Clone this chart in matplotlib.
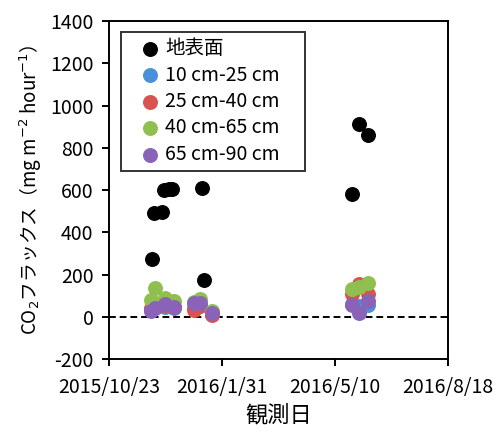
import numpy as np
import pandas as pd
import matplotlib
matplotlib.use("Agg")
import matplotlib.pyplot as plt

plt.rcParams['font.family'] = ['Noto Sans CJK JP', 'DejaVu Sans']
plt.rcParams['axes.unicode_minus'] = False

# 地表面の測定日と値
surf_dates = ['2015-11-30', '2015-12-02', '2015-12-09', '2015-12-11', '2015-12-15',
              '2015-12-18', '2016-01-13', '2016-01-15', '2016-05-25', '2016-05-31', '2016-06-08']
surf_vals = [275, 490, 495, 600, 605, 605, 608, 172, 583, 912, 862]

# 土壌中の測定日
sub_dates = ['2015-11-29', '2015-12-03', '2015-12-12', '2015-12-20', '2016-01-06',
             '2016-01-12', '2016-01-22', '2016-05-25', '2016-05-31', '2016-06-08']
d10_25 = [30, 50, 45, 40, 40, 55, 15, 60, 50, 55]
d25_40 = [40, 60, 55, 45, 30, 50, 10, 110, 155, 110]
d40_65 = [80, 135, 90, 75, 70, 85, 25, 130, 140, 160]
d65_90 = [25, 40, 60, 45, 65, 65, 20, 55, 20, 75]

labels = ['地表面', '10 cm-25 cm', '25 cm-40 cm', '40 cm-65 cm', '65 cm-90 cm']
colors = ['black', '#4a90d9', '#d9534f', '#8fc04f', '#8a62b8']

sd = pd.to_datetime(surf_dates)
bd = pd.to_datetime(sub_dates)

fig = plt.figure(figsize=(4.99, 4.32), dpi=100)
ax = fig.add_axes([0.218, 0.169, 0.680, 0.782])

ms = 95
ax.scatter(sd, surf_vals, s=ms, color=colors[0], label=labels[0], zorder=3)
for vals, lab, c in zip([d10_25, d25_40, d40_65, d65_90], labels[1:], colors[1:]):
    ax.scatter(bd, vals, s=ms, color=c, label=lab, zorder=3)

ax.axhline(0, color='black', lw=1.4, ls=(0, (3.5, 2)), zorder=2)

xt = pd.to_datetime(['2015-10-23', '2016-01-31', '2016-05-10', '2016-08-18'])
ax.set_xlim(xt[0], xt[-1])
ax.set_xticks(xt)
ax.set_xticklabels(['2015/10/23', '2016/1/31', '2016/5/10', '2016/8/18'])
ax.set_ylim(-200, 1400)
ax.set_yticks(np.arange(-200, 1401, 200))

for s in ax.spines.values():
    s.set_linewidth(1.4)
ax.tick_params(direction='out', length=5, width=1.4, labelsize=14)
ax.tick_params(axis='y', pad=6)
ax.tick_params(axis='x', pad=8)

ax.set_ylabel('CO$_2$フラックス（mg m$^{-2}$ hour$^{-1}$）', fontsize=13.5, labelpad=4)
ax.set_xlabel('観測日', fontsize=16, labelpad=4)

leg = ax.legend(loc='upper left', bbox_to_anchor=(0.035, 0.568, 0.543, 0.399), mode='expand',
                fontsize=14, frameon=True, fancybox=False, edgecolor='black',
                handletextpad=-0.4, borderpad=0.3, labelspacing=0.28, handlelength=2.4,
                borderaxespad=0)
leg.get_frame().set_linewidth(1.4)

fig.savefig('out.png', dpi=100)
